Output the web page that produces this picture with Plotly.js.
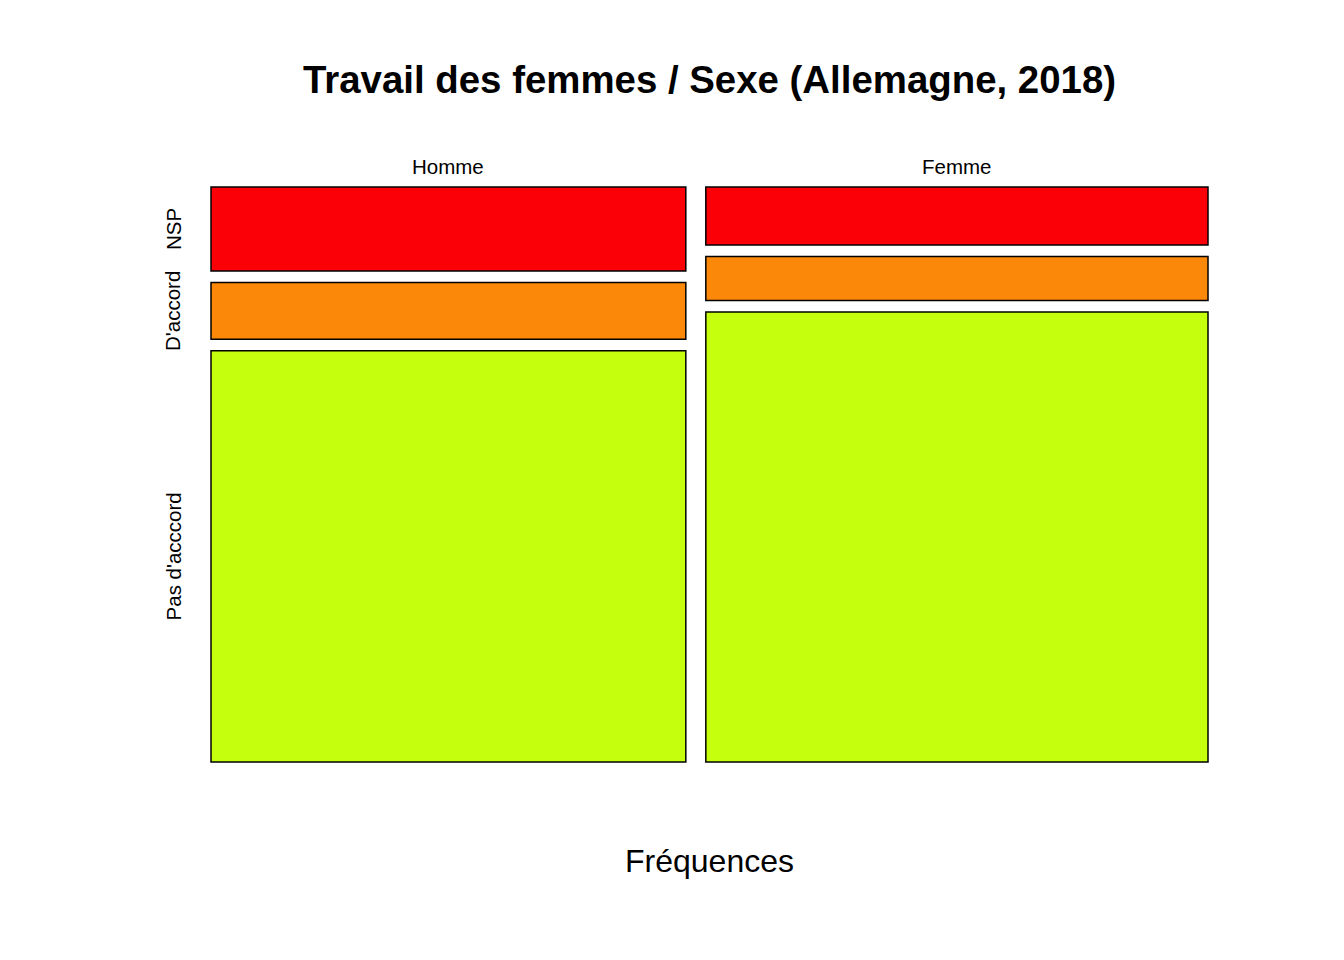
<!DOCTYPE html>
<html>
<head>
<meta charset="utf-8">
<script src="https://cdn.plot.ly/plotly-3.0.1.min.js"></script>
<style>html,body{margin:0;padding:0;background:#fff;}#chart{width:1344px;height:960px;}</style>
</head>
<body>
<div id="chart"></div>
<script>
// Data (estimated counts)
const sexes = ["Homme", "Femme"];
const responses = ["Pas d'acccord", "D'accord", "NSP"]; // bottom to top
const pasDaccord = [362, 419];
const daccord = [50, 41];
const nsp = [74, 54];
const colors = ["#C5FF0E", "#FC880A", "#FC0007"];

const series = [pasDaccord, daccord, nsp];

// Geometry constants (style, in axis units ~ pixels)
const W = 977;      // total width of columns (excluding gap)
const GX = 20;      // horizontal gap
const H = 552;      // total height of stacked cells (excluding gaps)
const GY = 11.5;    // vertical gap
const XR = [-10, W + GX + 10];
const YR = [-10, H + 2 * GY + 10];
const px = v => (v - XR[0]) / (XR[1] - XR[0]);
const py = v => (v - YR[0]) / (YR[1] - YR[0]);

const totals = sexes.map((s, i) => series.reduce((a, arr) => a + arr[i], 0));
const grand = totals.reduce((a, b) => a + b, 0);
const widths = totals.map(t => t / grand * W);
const lefts = [];
let acc = 0;
widths.forEach((w, i) => { lefts.push(acc); acc += w + GX; });
const centers = widths.map((w, i) => lefts[i] + w / 2);

const traces = [];
const bases = sexes.map(() => 0);
const labelCenters = [];
series.forEach((arr, k) => {
  const heights = arr.map((v, i) => v / totals[i] * H);
  traces.push({
    type: 'bar',
    x: centers,
    y: heights,
    base: bases.slice(),
    width: widths,
    marker: {color: colors[k], line: {color: '#000', width: 1.5}},
    hoverinfo: 'skip',
    showlegend: false
  });
  labelCenters.push(bases[0] + heights[0] / 2);
  for (let i = 0; i < bases.length; i++) bases[i] += heights[i] + GY;
});

const annotations = [];
sexes.forEach((s, i) => {
  annotations.push({x: px(centers[i]), y: py(H + 2 * GY + 21), xref: 'paper', yref: 'paper', text: s,
    showarrow: false, font: {size: 20.5, color: '#000'}, xanchor: 'center', yanchor: 'middle'});
});
responses.forEach((r, k) => {
  annotations.push({x: px(-38), y: py(labelCenters[k]), xref: 'paper', yref: 'paper', text: r, textangle: -90,
    showarrow: false, font: {size: 20.5, color: '#000'}, xanchor: 'center', yanchor: 'middle'});
});
annotations.push({x: 0.5, y: py(-99), xref: 'paper', yref: 'paper', text: 'Fréquences', showarrow: false,
  font: {size: 32, color: '#000'}, xanchor: 'center', yanchor: 'middle'});

const layout = {
  width: 1344, height: 960,
  paper_bgcolor: '#fff', plot_bgcolor: '#fff',
  font: {family: 'Liberation Sans, Arial, sans-serif', color: '#000'},
  margin: {l: 201, r: 126, t: 177, b: 188},
  title: {text: '<b>Travail des femmes / Sexe (Allemagne, 2018)</b>', x: 0.5, xref: 'paper',
    y: 1 - 80/960, yanchor: 'middle', font: {size: 38.4, color: '#000'}},
  xaxis: {range: XR, visible: false, fixedrange: true},
  yaxis: {range: YR, visible: false, fixedrange: true},
  barmode: 'overlay',
  showlegend: false,
  annotations: annotations
};

Plotly.newPlot('chart', traces, layout, {displayModeBar: false, staticPlot: true});
</script>
</body>
</html>
